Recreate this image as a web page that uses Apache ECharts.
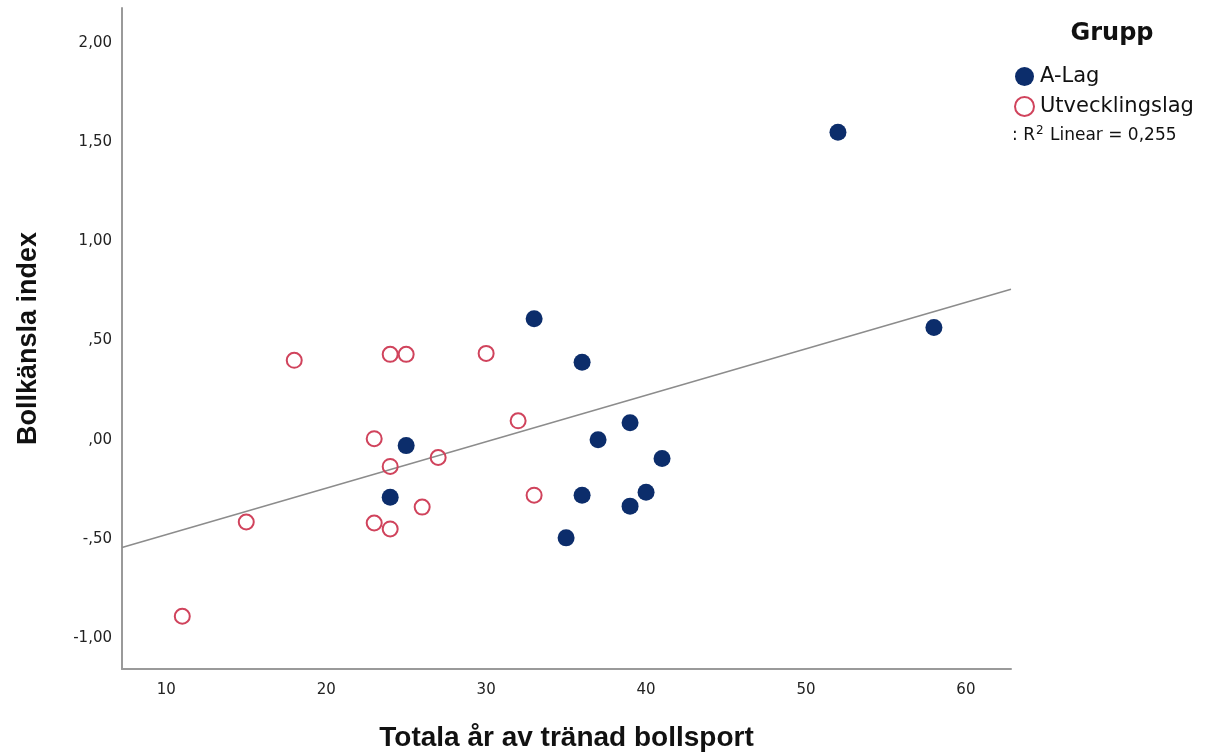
<!DOCTYPE html>
<html>
<head>
<meta charset="utf-8">
<script src="https://cdn.jsdelivr.net/npm/echarts@6/dist/echarts.min.js"></script>
<style>
html,body{margin:0;padding:0;background:#fff;}
#chart{width:1207px;height:754px;}
</style>
</head>
<body>
<div id="chart"></div>
<script>
const seriesNames = ['A-Lag', 'Utvecklingslag'];
const aLagX = [52, 58, 33, 36, 39, 37, 41, 25, 24, 36, 40, 39, 35];
const aLagY = [1.55, 0.565, 0.61, 0.39, 0.085, 0.00, -0.095, -0.03, -0.29, -0.28, -0.265, -0.335, -0.495];
const utvX = [18, 24, 25, 30, 32, 23, 24, 27, 33, 26, 15, 23, 24, 11];
const utvY = [0.40, 0.43, 0.43, 0.435, 0.095, 0.005, -0.135, -0.09, -0.28, -0.34, -0.415, -0.42, -0.45, -0.89];
const xTitle = 'Totala år av tränad bollsport';
const yTitle = 'Bollkänsla index';
const legendTitle = 'Grupp';
const r2Label = '0,255';
const xRange = [7.23, 62.82];
const yRange = [-1.156, 2.176];

const aLag = aLagX.map((x, i) => [x, aLagY[i]]);
const utv = utvX.map((x, i) => [x, utvY[i]]);
const all = aLag.concat(utv);
const n = all.length;
const mx = all.reduce((s, p) => s + p[0], 0) / n;
const my = all.reduce((s, p) => s + p[1], 0) / n;
let sxy = 0, sxx = 0;
all.forEach(p => { sxy += (p[0] - mx) * (p[1] - my); sxx += (p[0] - mx) * (p[0] - mx); });
const slope = sxy / sxx;
const intercept = my - slope * mx;
const fitLine = xRange.map(x => [x, intercept + slope * x]);

function yFmt(v) {
  const r = Math.round(v * 100) / 100;
  if (Math.abs(r * 2 - Math.round(r * 2)) > 1e-6) return '';
  let s = Math.abs(r).toFixed(2).replace('.', ',');
  if (s.startsWith('0')) s = s.slice(1);
  return (r < 0 ? '-' : '') + s;
}
function xFmt(v) {
  if (Math.abs(v / 10 - Math.round(v / 10)) > 1e-6) return '';
  return String(Math.round(v));
}

const chart = echarts.init(document.getElementById('chart'), null, {renderer: 'canvas'});
const tickFont = {fontFamily: '"DejaVu Sans", sans-serif', fontSize: 15, color: '#222'};
const titleFont = {fontFamily: '"Liberation Sans Narrow", "Arial Narrow", "Liberation Sans", sans-serif', fontWeight: 'bold', fontSize: 27, color: '#111'};

chart.setOption({
  animation: false,
  backgroundColor: '#fff',
  grid: {left: 122, right: 196, top: 8, bottom: 85, containLabel: false, outerBoundsMode: 'none'},
  xAxis: {
    type: 'value', min: xRange[0], max: xRange[1], splitNumber: 5,
    name: xTitle, nameLocation: 'middle', nameGap: 55, nameTextStyle: Object.assign({}, titleFont, {fontSize: 28}),
    axisLine: {show: true, onZero: false, lineStyle: {color: '#9a9a9a', width: 2}},
    axisTick: {show: false}, splitLine: {show: false},
    axisLabel: Object.assign({margin: 14, formatter: xFmt}, tickFont)
  },
  yAxis: {
    type: 'value', min: yRange[0], max: yRange[1], splitNumber: 6,
    name: yTitle, nameLocation: 'middle', nameGap: 80, nameTextStyle: titleFont,
    axisLine: {show: true, onZero: false, lineStyle: {color: '#9a9a9a', width: 2}},
    axisTick: {show: false}, splitLine: {show: false},
    axisLabel: Object.assign({margin: 10, formatter: yFmt}, tickFont)
  },
  title: {
    text: legendTitle, left: 1107, top: 17, textAlign: 'center',
    textStyle: {fontFamily: '"DejaVu Sans", sans-serif', fontWeight: 'bold', fontSize: 24, color: '#111'}
  },
  legend: {
    orient: 'vertical', left: 1009, top: 61, itemWidth: 19, itemHeight: 19, itemGap: 9,
    data: seriesNames,
    textStyle: {fontFamily: '"DejaVu Sans", sans-serif', fontSize: 21, color: '#111', padding: [0, 0, 0, 1]}
  },
  graphic: [{
    type: 'text', left: 1012, top: 125,
    style: {
      text: ': R{sup|2} Linear = ' + r2Label,
      font: '17px "DejaVu Sans", sans-serif', fill: '#111',
      rich: {sup: {fontSize: 12, verticalAlign: 'top', padding: [0, 1, 9, 1], fill: '#111', fontFamily: '"DejaVu Sans", sans-serif'}}
    }
  }],
  series: [
    {
      type: 'line', data: fitLine, symbol: 'none', silent: true, z: 1,
      lineStyle: {color: '#8c8c8c', width: 1.5}, legendHoverLink: false
    },
    {
      name: seriesNames[0], type: 'scatter', data: aLag, symbol: 'circle', symbolSize: 17, z: 3,
      itemStyle: {color: '#0c2d6b', opacity: 1}
    },
    {
      name: seriesNames[1], type: 'scatter', data: utv, symbol: 'circle', symbolSize: 15, z: 3,
      itemStyle: {color: 'rgba(255,255,255,0)', borderColor: '#d0435c', borderWidth: 2, opacity: 1}
    }
  ]
});
</script>
</body>
</html>
